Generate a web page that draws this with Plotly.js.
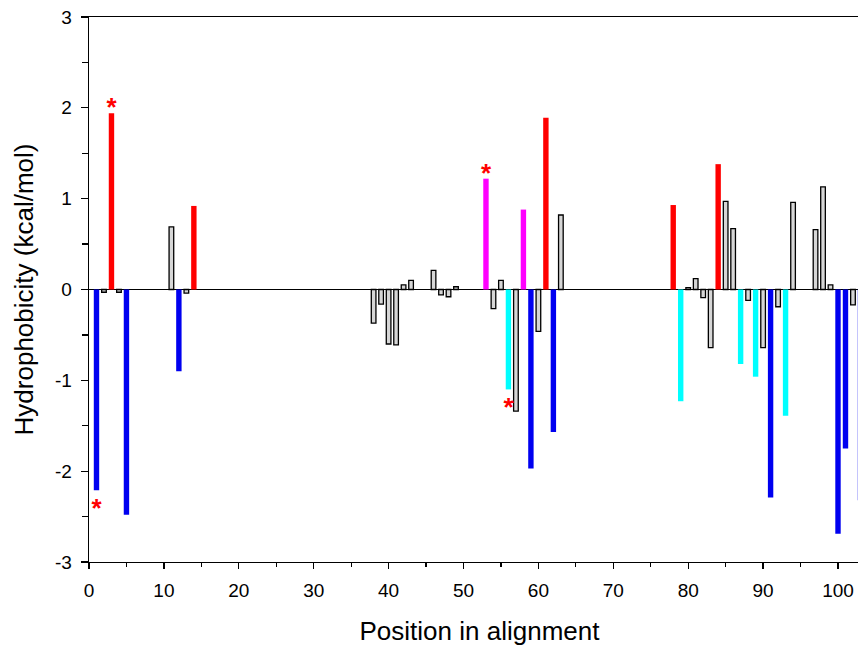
<!DOCTYPE html>
<html>
<head>
<meta charset="utf-8">
<script src="https://cdn.plot.ly/plotly-3.0.1.min.js"></script>
<style>
html, body { margin: 0; padding: 0; overflow: hidden; background: #fff; }
#chart { width: 870px; height: 646px; }
</style>
</head>
<body>
<div id="chart"></div>
<script>
// ---- data ----
const positions = [1, 2, 3, 4, 5, 11, 12, 13, 14,
  38, 39, 40, 41, 42, 43, 46, 47, 48, 49,
  53, 54, 55, 56, 57, 58, 59, 60, 61, 62, 63,
  78, 79, 80, 81, 82, 83, 84, 85, 86, 87, 88, 89, 90, 91, 92, 93, 94,
  97, 98, 99, 100, 101, 102, 103];
const hydrophobicity = [-2.21, -0.03, 1.94, -0.03, -2.48, 0.69, -0.90, -0.04, 0.92,
  -0.37, -0.16, -0.60, -0.61, 0.05, 0.10, 0.21, -0.06, -0.08, 0.03,
  1.22, -0.21, 0.10, -1.10, -1.34, 0.88, -1.97, -0.46, 1.89, -1.57, 0.82,
  0.93, -1.23, 0.02, 0.12, -0.09, -0.64, 1.38, 0.97, 0.67, -0.82, -0.12, -0.96, -0.64, -2.29, -0.19, -1.39, 0.96,
  0.66, 1.13, 0.05, -2.69, -1.75, -0.17, -2.32];
const groups = ['blue', 'gray', 'red', 'gray', 'blue', 'gray', 'blue', 'gray', 'red',
  'gray', 'gray', 'gray', 'gray', 'gray', 'gray', 'gray', 'gray', 'gray', 'gray',
  'magenta', 'gray', 'gray', 'cyan', 'gray', 'magenta', 'blue', 'gray', 'red', 'blue', 'gray',
  'red', 'cyan', 'gray', 'gray', 'gray', 'gray', 'red', 'gray', 'gray', 'cyan', 'gray', 'cyan', 'gray', 'blue', 'gray', 'cyan', 'gray',
  'gray', 'gray', 'gray', 'blue', 'blue', 'gray', 'blue'];
const starredPositions = [1, 3, 53, 56];

const xTickValues = [0, 10, 20, 30, 40, 50, 60, 70, 80, 90, 100];
const yTickValues = [-3, -2, -1, 0, 1, 2, 3];

// ---- styles ----
const groupStyle = {
  gray:    {color: '#d6d6d6', line: 1.3, width: 0.62},
  red:     {color: '#ff0000', line: 0, width: 0.72},
  blue:    {color: '#0000f0', line: 0, width: 0.72},
  cyan:    {color: '#00ffff', line: 0, width: 0.72},
  magenta: {color: '#ff00ff', line: 0, width: 0.72}
};
const FONT = 'Liberation Sans, Arial, sans-serif';

const traces = [];
Object.keys(groupStyle).forEach(g => {
  const xs = [], ys = [];
  positions.forEach((p, i) => { if (groups[i] === g) { xs.push(p); ys.push(hydrophobicity[i]); } });
  const s = groupStyle[g];
  traces.push({
    type: 'bar', x: xs, y: ys, width: s.width,
    marker: {color: s.color, line: {color: '#000', width: s.line}},
    hoverinfo: 'x+y', showlegend: false
  });
});

// asterisks next to bar ends
const starX = [], starY = [];
starredPositions.forEach(p => {
  const v = hydrophobicity[positions.indexOf(p)];
  starX.push(p);
  starY.push(v >= 0 ? v + 0.04 : v - 0.22);
});
traces.push({
  type: 'scatter', mode: 'text', x: starX, y: starY, text: starX.map(() => '*'),
  textposition: 'middle center',
  textfont: {family: FONT, size: 26, color: '#ff0000', weight: 'bold'},
  hoverinfo: 'skip', showlegend: false
});

const layout = {
  width: 870, height: 646,
  margin: {l: 89, r: 0, t: 17, b: 84},
  paper_bgcolor: '#fff', plot_bgcolor: '#fff',
  barmode: 'overlay',
  font: {family: FONT, color: '#000'},
  xaxis: {
    range: [0, 781 / 7.49],
    tickmode: 'array', tickvals: xTickValues, ticktext: xTickValues.map(String),
    ticks: 'outside', ticklen: 6, tickwidth: 1.2, tickcolor: '#000',
    minor: {dtick: 5, tick0: 0, ticks: 'outside', ticklen: 3.5, tickwidth: 1.2, tickcolor: '#000', showgrid: false},
    showline: true, linecolor: '#000', linewidth: 1.3, mirror: true,
    showgrid: false, zeroline: false,
    tickfont: {size: 19, family: FONT},
    ticklabelstandoff: 5,
    title: {text: 'Position in alignment', font: {size: 26, family: FONT}, standoff: 22},
    automargin: false
  },
  yaxis: {
    range: [-3, 3],
    tickmode: 'array', tickvals: yTickValues, ticktext: yTickValues.map(String),
    ticks: 'outside', ticklen: 7, tickwidth: 1.2, tickcolor: '#000',
    minor: {dtick: 0.5, tick0: 0, ticks: 'outside', ticklen: 6, tickwidth: 1.2, tickcolor: '#000', showgrid: false},
    showline: true, linecolor: '#000', linewidth: 1.3, mirror: true,
    showgrid: false,
    zeroline: true, zerolinecolor: '#000', zerolinewidth: 1.3,
    tickfont: {size: 19, family: FONT},
    ticklabelstandoff: 5,
    title: {text: 'Hydrophobicity (kcal/mol)', font: {size: 26, family: FONT}, standoff: 14},
    automargin: false
  }
};

Plotly.newPlot('chart', traces, layout, {displayModeBar: false, staticPlot: true});
</script>
</body>
</html>
